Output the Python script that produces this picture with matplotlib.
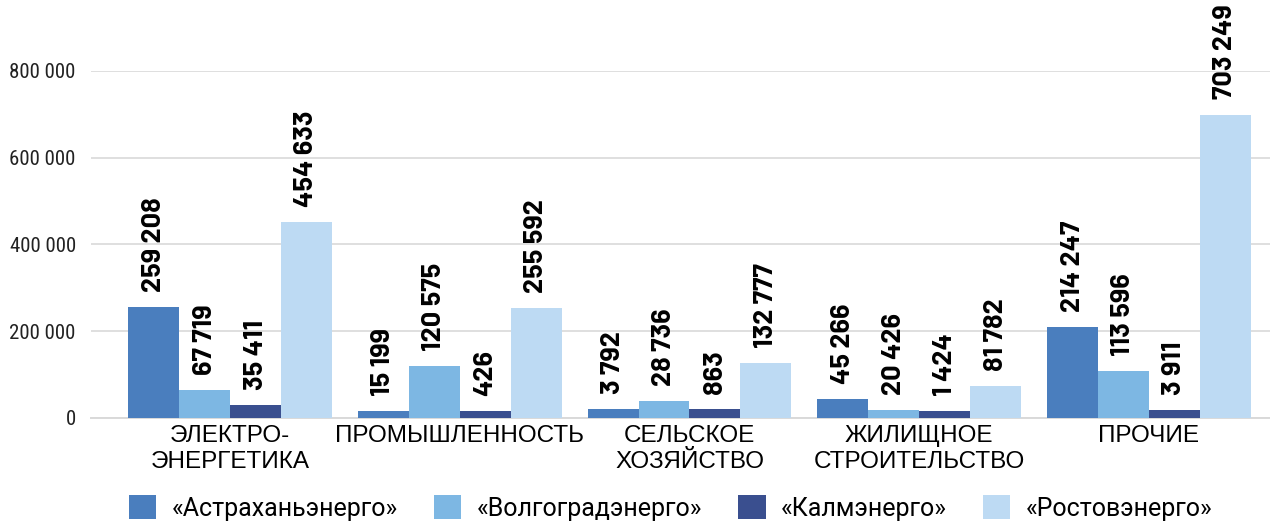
import matplotlib
matplotlib.use("Agg")
import matplotlib.pyplot as plt
from matplotlib.patches import Patch
import numpy as np

# categories (x axis)
categories = ["ЭЛЕКТРО-\nЭНЕРГЕТИКА", "ПРОМЫШЛЕННОСТЬ", "СЕЛЬСКОЕ\nХОЗЯЙСТВО",
              "ЖИЛИЩНОЕ\nСТРОИТЕЛЬСТВО", "ПРОЧИЕ"]
series_names = ["«Астраханьэнерго»", "«Волгоградэнерго»", "«Калмэнерго»", "«Ростовэнерго»"]

# bar heights as drawn in the picture
astr_bars = [255000, 16000, 21000, 44000, 209000]
volg_bars = [64000, 120000, 39000, 18000, 108000]
kalm_bars = [30000, 16000, 21000, 16000, 18000]
rost_bars = [451000, 253000, 126000, 74000, 699000]

# printed values over the bars
astr_labels = [259208, 15199, 3792, 45266, 214247]
volg_labels = [67719, 120575, 28736, 20426, 113596]
kalm_labels = [35411, 426, 863, 1424, 3911]
rost_labels = [454633, 255592, 132777, 81782, 703249]

y_ticks = [0, 200000, 400000, 600000, 800000]

COLORS = ["#4A7EBE", "#7DB7E3", "#3A4F8F", "#BDDAF3"]
GRID = "#D9D9D9"

bars_all = [astr_bars, volg_bars, kalm_bars, rost_bars]
labels_all = [astr_labels, volg_labels, kalm_labels, rost_labels]


def fmt(v):
    return f"{v:,}".replace(",", " ")


fig = plt.figure(figsize=(12.7, 5.23), dpi=100, facecolor="white")
ax = fig.add_axes([0.0717, 0.2008, 0.9283, 0.664])

x = np.arange(len(categories))
w = 0.2217
for j, (vals, labs) in enumerate(zip(bars_all, labels_all)):
    pos = x + (j - 1.5) * w
    ax.bar(pos, vals, width=w, color=COLORS[j], edgecolor="none", zorder=3)
    for px, v, lab in zip(pos, vals, labs):
        ax.annotate(fmt(lab), (px, v), xytext=(0, 11), textcoords="offset points",
                    rotation=90, ha="center", va="bottom",
                    fontsize=19.5, fontweight="bold", family="Barlow",
                    color="black", zorder=4)

ax.set_ylim(0, 800000)
ax.set_xlim(-0.605, 4.527)
ax.set_yticks(y_ticks)
ax.set_yticklabels([fmt(t) for t in y_ticks], family="Roboto Condensed",
                   fontsize=15, color="#222222")
ax.set_xticks(x)
ax.set_xticklabels(categories, family="Liberation Sans", fontsize=17.5,
                   color="black", linespacing=1.22)
ax.tick_params(axis="both", length=0)
ax.tick_params(axis="y", pad=11)
ax.tick_params(axis="x", pad=5)
ax.grid(axis="y", color=GRID, linewidth=1.2, zorder=0)
for s in ["top", "right", "left"]:
    ax.spines[s].set_visible(False)
ax.spines["bottom"].set_color(GRID)
ax.spines["bottom"].set_linewidth(1.4)

handles = [Patch(facecolor=c, edgecolor="none") for c in COLORS]
fig.legend(handles, series_names, loc="center", bbox_to_anchor=(0.528, 0.029),
           ncol=4, frameon=False, prop={"family": "Roboto", "size": 18},
           handlelength=1.1, handleheight=1.1, handletextpad=0.6,
           columnspacing=1.45, borderaxespad=0)

fig.savefig("out.png", dpi=100, facecolor="white")
